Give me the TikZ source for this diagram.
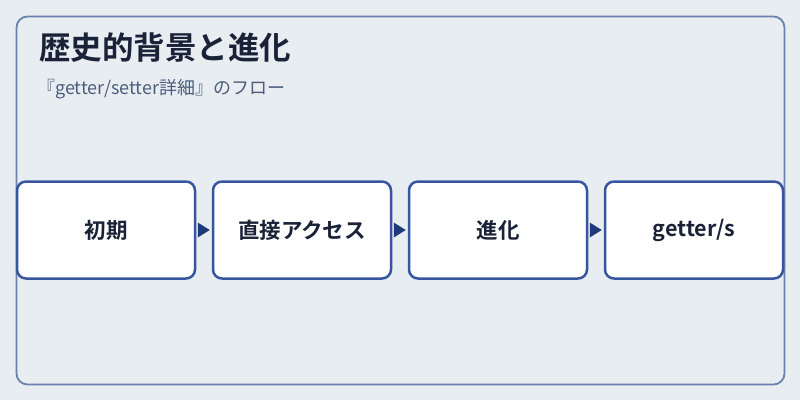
\documentclass[tikz,border=0pt]{standalone}
\usepackage{fontspec}
\newfontfamily\cjk{Noto Sans CJK JP}
\newfontfamily\cjkb{Noto Sans CJK JP Bold}
\usetikzlibrary{arrows.meta}
\definecolor{bg}{HTML}{E8EDF2}
\definecolor{frame}{HTML}{6B82AC}
\definecolor{boxb}{HTML}{3657A0}
\definecolor{txt}{HTML}{1A2238}
\definecolor{sub}{HTML}{4D5D7C}
\definecolor{arr}{HTML}{1E3A78}
\tikzset{
  stepbox/.style={draw=boxb, line width=2.5pt, fill=white, rounded corners=9pt,
    minimum width=178pt, minimum height=97pt, inner sep=0pt,
    font=\cjkb\fontsize{21.5}{24}\selectfont, text=txt}
}
\newcommand{\lbl}[1]{\raisebox{-2.5pt}{#1}}
\begin{document}
\begin{tikzpicture}[x=1pt,y=-1pt]
\fill[bg] (0,0) rectangle (800,400);
\useasboundingbox (0,0) rectangle (800,400);
\draw[frame, line width=1.8pt, rounded corners=11pt] (16.5,16.5) rectangle (784.5,384.5);
\node[anchor=west, font=\cjkb\fontsize{31.5}{34}\selectfont, text=txt, inner sep=0pt] (title) at (39,48) {歴史的背景と進化};
\node[anchor=west, font=\cjk\fontsize{18}{20}\selectfont, text=sub, inner sep=0pt] (subt) at (37,89.5) {『getter/setter詳細』のフロー};
\node[stepbox] (a) at (106,230) {\lbl{初期}};
\node[stepbox] (b) at (302,230) {\lbl{直接アクセス}};
\node[stepbox] (c) at (498,230) {\lbl{進化}};
\node[stepbox] (d) at (694,230) {\lbl{getter/s}};
\foreach \p/\q in {a/b,b/c,c/d}{
  \fill[arr] ([xshift=1.5pt]\p.east) ++(0,-7.5) -- ++(12,7.5) -- ++(-12,7.5) -- cycle;
}
\end{tikzpicture}
\end{document}
